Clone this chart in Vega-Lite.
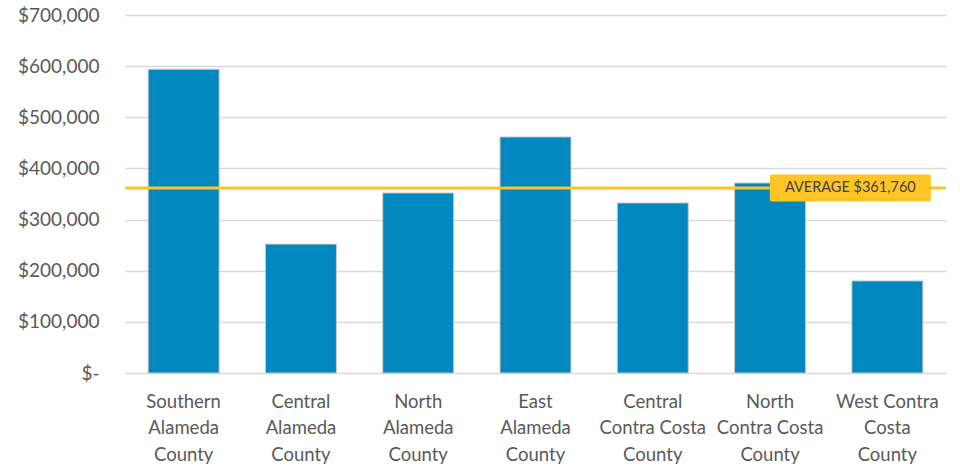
{
  "$schema": "https://vega.github.io/schema/vega-lite/v6.json",
  "width": 821,
  "height": 358,
  "autosize": {"type": "none"},
  "padding": {"left": 125, "top": 15, "right": 14, "bottom": 94},
  "background": "white",
  "config": {"view": {"stroke": null}, "font": "Lato"},
  "datasets": {
    "bars": [
      {"region": "Southern Alameda County", "value": 594000},
      {"region": "Central Alameda County", "value": 252000},
      {"region": "North Alameda County", "value": 352000},
      {"region": "East Alameda County", "value": 461500},
      {"region": "Central Contra Costa County", "value": 332500},
      {"region": "North Contra Costa County", "value": 371500},
      {"region": "West Contra Costa County", "value": 180000}
    ],
    "avg": [
      {"region": "West Contra Costa County", "value": 361760, "label": "AVERAGE $361,760"}
    ]
  },
  "layer": [
    {
      "data": {"name": "bars"},
      "mark": {"type": "bar", "color": "#0088BF", "stroke": "#C8C8C8", "strokeWidth": 1},
      "encoding": {
        "x": {
          "field": "region", "type": "nominal", "sort": null,
          "scale": {"paddingInner": 0.395, "paddingOuter": 0.1975},
          "axis": {
            "title": null, "domain": false, "ticks": false, "labelAngle": 0,
            "labelFont": "Lato", "labelFontSize": 18.5, "labelColor": "#595959",
            "labelPadding": 19, "labelBaseline": "top", "labelLineHeight": 26.5,
            "labelLimit": 200,
            "labelExpr": "datum.value == 'West Contra Costa County' ? ['West Contra', 'Costa', 'County'] : [split(datum.value, ' ')[0], replace(replace(datum.value, split(datum.value, ' ')[0] + ' ', ''), ' County', ''), 'County']"
          }
        },
        "y": {
          "field": "value", "type": "quantitative",
          "scale": {"domain": [0, 700000], "nice": false},
          "axis": {
            "title": null, "domain": false, "ticks": false,
            "values": [0, 100000, 200000, 300000, 400000, 500000, 600000, 700000],
            "gridColor": "#D9D9D9", "gridWidth": 1.5,
            "labelFont": "Lato", "labelFontSize": 19, "labelColor": "#595959",
            "labelPadding": 26,
            "labelExpr": "datum.value == 0 ? '$-\u00a0\u00a0' : '$' + format(datum.value, ',')"
          }
        }
      }
    },
    {
      "data": {"name": "avg"},
      "mark": {"type": "rule", "color": "#FFC425", "strokeWidth": 3},
      "encoding": {"y": {"field": "value", "type": "quantitative"}}
    },
    {
      "data": {"name": "avg"},
      "mark": {
        "type": "point", "filled": true, "color": "#FFC425", "opacity": 1,
        "size": 25921, "xOffset": -37,
        "shape": "M-0.975,-0.168 H0.975 A0.025,0.025 0 0 1 1,-0.143 V0.143 A0.025,0.025 0 0 1 0.975,0.168 H-0.975 A0.025,0.025 0 0 1 -1,0.143 V-0.143 A0.025,0.025 0 0 1 -0.975,-0.168 Z"
      },
      "encoding": {
        "x": {"field": "region", "type": "nominal", "sort": null},
        "y": {"field": "value", "type": "quantitative"}
      }
    },
    {
      "data": {"name": "avg"},
      "mark": {"type": "text", "font": "Lato", "fontSize": 14.5, "color": "#404040", "xOffset": -37, "baseline": "middle", "align": "center"},
      "encoding": {
        "x": {"field": "region", "type": "nominal", "sort": null},
        "y": {"field": "value", "type": "quantitative"},
        "text": {"field": "label"}
      }
    }
  ]
}
